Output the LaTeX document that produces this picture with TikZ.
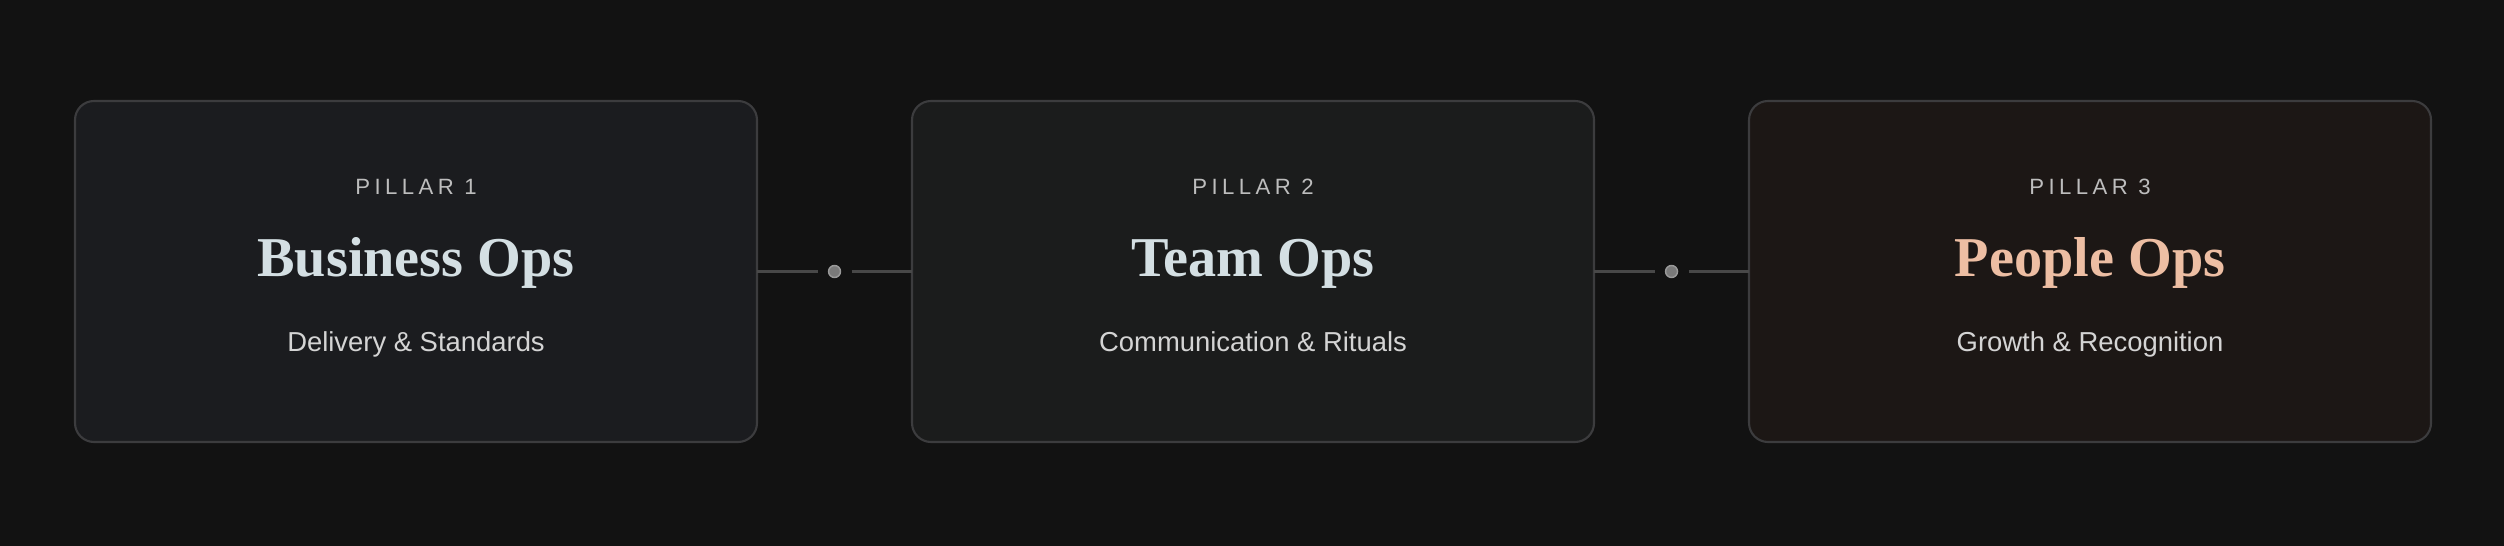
\documentclass[tikz,border=0pt]{standalone}
\usepackage{fontspec}
\setmainfont{Liberation Sans}
\newfontfamily\pillarserif{Liberation Serif}
\newfontfamily\pillarspaced[LetterSpace=20]{Liberation Sans}
\usetikzlibrary{positioning}
\definecolor{pagebg}{HTML}{121212}
\definecolor{boxcool}{HTML}{1B1C1F}
\definecolor{boxgrey}{HTML}{1B1C1C}
\definecolor{boxwarm}{HTML}{1C1715}
\definecolor{boxline}{HTML}{3C3C3E}
\definecolor{linkgrey}{HTML}{484848}
\definecolor{jointfill}{HTML}{7A7A7A}
\definecolor{jointline}{HTML}{9A9A9A}
\definecolor{titlecool}{HTML}{D4DFE3}
\definecolor{titlewarm}{HTML}{EDBEA3}
\definecolor{tagtext}{HTML}{BDBDBD}
\definecolor{subtext}{HTML}{D4D4D4}
\tikzset{
    %Define style for the pillar boxes
    pillarbox/.style={
             rectangle, rounded corners=0.19cm,
             draw=boxline, line width=0.6pt,
             minimum width=6.82cm, minimum height=3.41cm,
             inner sep=0pt, outer sep=0pt},
    % Define text styles
    pillartag/.style={
             anchor=base, inner sep=0pt,
             text=tagtext,
             font=\pillarspaced\fontsize{6.3}{7}\selectfont},
    pillartitle/.style={
             anchor=base, inner sep=0pt,
             text=titlecool,
             font=\pillarserif\bfseries\fontsize{16}{18}\selectfont},
    pillarsub/.style={
             anchor=base, inner sep=0pt,
             text=subtext,
             font=\fontsize{7.8}{10}\selectfont},
    % Define joint and link style
    joint/.style={
             circle, fill=jointfill, draw=jointline,
             line width=0.4pt, minimum size=0.12cm,
             inner sep=0pt, outer sep=0pt},
    link/.style={
             draw=linkgrey, line width=0.6pt}
}
\begin{document}
\begin{tikzpicture}
 \fill[pagebg] (0,0) rectangle (25.04,5.46);
 \useasboundingbox (0,0) rectangle (25.04,5.46);
 \node[pillarbox, fill=boxcool] (business) at (4.16,2.745) {};
 \node[pillarbox, fill=boxgrey, right=1.55cm of business] (team) {};
 \node[pillarbox, fill=boxwarm, right=1.55cm of team] (people) {};
 \node[joint, right=0.715cm of business] (jointone) {};
 \node[joint, right=0.715cm of team] (jointtwo) {};
% texts in the boxes
 \node[pillartag] (businesstag) at ([yshift=-0.94cm]business.north) {PILLAR 1};
 \node[pillartitle] (businesstitle) at ([yshift=-1.76cm]business.north) {Business Ops};
 \node[pillarsub] (businesssub) at ([yshift=-2.51cm]business.north) {Delivery \& Standards};
 \node[pillartag] (teamtag) at ([yshift=-0.94cm]team.north) {PILLAR 2};
 \node[pillartitle] (teamtitle) at ([yshift=-1.76cm]team.north) {Team Ops};
 \node[pillarsub] (teamsub) at ([yshift=-2.51cm]team.north) {Communication \& Rituals};
 \node[pillartag] (peopletag) at ([yshift=-0.94cm]people.north) {PILLAR 3};
 \node[pillartitle, text=titlewarm] (peopletitle) at ([yshift=-1.76cm]people.north) {People Ops};
 \node[pillarsub] (peoplesub) at ([yshift=-2.51cm]people.north) {Growth \& Recognition};
 \path (business) edge[link, shorten >=0.11cm] (jointone)
       (jointone) edge[link, shorten <=0.11cm] (team)
       (team) edge[link, shorten >=0.11cm] (jointtwo)
       (jointtwo) edge[link, shorten <=0.11cm] (people);
\end{tikzpicture}
\end{document}
